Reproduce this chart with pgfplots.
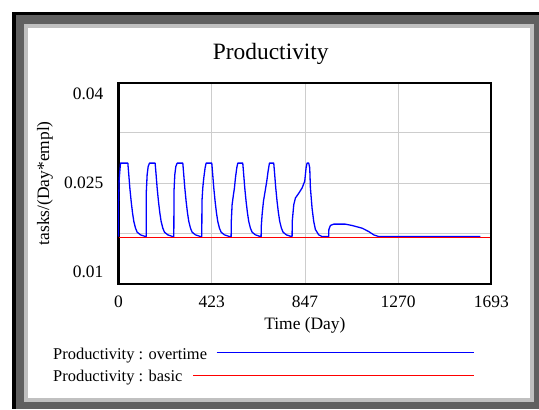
\documentclass[border=0pt]{standalone}
\usepackage{pgfplots}
\pgfplotsset{compat=1.18}
\usepackage{fontspec}
\setmainfont{Liberation Serif}
\definecolor{dkgray}{RGB}{96,96,96}
\definecolor{ltgray}{RGB}{192,192,192}
\definecolor{gridgray}{RGB}{205,205,205}
\definecolor{vblue}{RGB}{0,0,255}
\definecolor{vred}{rgb}{1,0,0}
\begin{document}
\begin{tikzpicture}[x=1bp,y=1bp]
\path[use as bounding box] (0,0) rectangle (539,409);
\fill[dkgray] (12,0) rectangle (539,397);
\fill[black] (12,0) rectangle (16,397);
\fill[black] (12,394) rectangle (539,397);
\fill[ltgray] (24,7) rectangle (534,385);
\fill[white] (28,11) rectangle (530,381);
\begin{axis}[
  at={(118.5bp,125.2bp)}, anchor=south west,
  width=372.8bp, height=201.1bp, scale only axis,
  xmin=0, xmax=1693, ymin=0.01, ymax=0.04,
  scaled y ticks=false, scaled x ticks=false,
  axis line style={line width=2.2bp, black},
  xtick={0,423,847,1270,1693}, xticklabels={0,423,847,1270,1693},
  ytick={0.01172,0.025,0.03836}, yticklabels={0.01,0.025,0.04},
  minor ytick={0.0175,0.025,0.0325},
  xmajorgrids=true, ymajorgrids=false, yminorgrids=true,
  major grid style={gridgray, line width=1bp},
  minor grid style={gridgray, line width=1bp},
  major tick length=0pt, minor tick length=0pt,
  tick style={draw=none},
  ticklabel style={font=\fontsize{17.5}{20}\selectfont},
  xticklabel style={anchor=center, yshift=-18bp},
  yticklabel style={anchor=east, inner sep=0pt, xshift=-15bp},
  title={Productivity},
  title style={at={(axis description cs:0.4085,1.088)}, anchor=base, inner sep=0pt, font=\fontsize{23.5}{28}\selectfont},
  xlabel={Time (Day)},
  xlabel style={at={(axis description cs:0.5,-0.2273)}, anchor=base, inner sep=0pt, font=\fontsize{17.5}{20}\selectfont},
  ylabel={tasks/(Day*empl)},
  ylabel style={at={(axis description cs:-0.197,0.5)}, anchor=center, inner sep=0pt, rotate=0, font=\fontsize{17.5}{20}\selectfont},
  clip=false,
]
\addplot[vblue, line width=1.3bp, line join=round] coordinates {
(0,0.01705) (0.3,0.0222) (3,0.0255) (6,0.0268) (9.1,0.0280) (42.4,0.0280)
(46.9,0.0262) (51.5,0.0243) (57.5,0.0223) (63.6,0.0206) (69.6,0.0193) (77.2,0.0183) (84.8,0.0177) (99.9,0.0173) (122.6,0.01705)
(125.6,0.01705) (126.4,0.0238) (130.1,0.0263) (134.7,0.0275) (140.7,0.0280) (166.4,0.0280)
(170.9,0.0262) (175.5,0.0243) (181.5,0.0223) (187.6,0.0206) (193.6,0.0193) (201.2,0.0183) (208.8,0.0177) (223.9,0.0173) (246.6,0.01705)
(251.2,0.01705) (252,0.0238) (255.7,0.0263) (260.3,0.0275) (266.3,0.0280) (292,0.0280)
(296.5,0.0262) (301.1,0.0243) (307.1,0.0223) (313.2,0.0206) (319.2,0.0193) (326.8,0.0183) (334.4,0.0177) (349.5,0.0173) (372.2,0.01705)
(378.2,0.01705) (379,0.0223) (382.7,0.0243) (387.3,0.0258) (393.3,0.0273) (397.9,0.0280) (423.6,0.0280)
(428.1,0.0262) (432.7,0.0243) (438.7,0.0223) (444.8,0.0206) (450.8,0.0193) (458.4,0.0183) (466,0.0177) (481.1,0.0173) (503.8,0.01705)
(511.4,0.01705) (512.2,0.0193) (515.9,0.0218) (522,0.0233) (526.5,0.0243) (531.1,0.0258) (537.1,0.0273) (541.6,0.0280) (564.3,0.0280)
(568.8,0.0262) (573.4,0.0243) (579.4,0.0223) (585.5,0.0206) (591.5,0.0193) (599.1,0.0183) (606.7,0.0177) (621.8,0.0173) (644.5,0.01705)
(647.6,0.01705) (648.4,0.0186) (652.1,0.0203) (658.2,0.0223) (665.8,0.0238) (673.3,0.0253) (679.4,0.0268) (685.4,0.0280) (705,0.0280)
(709.5,0.0262) (714.1,0.0243) (720.1,0.0223) (726.2,0.0206) (732.2,0.0193) (739.8,0.0183) (747.4,0.0177) (762.5,0.0173) (785.2,0.01705)
(788.3,0.01705) (789,0.0193) (795.9,0.0218) (803.4,0.0228) (818.5,0.0235) (833.7,0.0243) (845.7,0.0253) (851.8,0.0273) (856.3,0.0280) (863.9,0.0280)
(868.4,0.0273) (871.5,0.0243) (879,0.0213) (886.6,0.0193) (894.2,0.0181) (909.3,0.0173) (924.5,0.01705)
(954.7,0.01705) (955.3,0.0181) (962.3,0.0187) (977.4,0.0189) (1030.4,0.0189) (1060.7,0.0187) (1106,0.0183) (1136.3,0.0178) (1159,0.0173) (1181.6,0.01705) (1643,0.01705)
};
\addplot[draw=vred, color=vred, line width=1.4bp] coordinates {(0,0.0169) (1685,0.0169)};
\end{axis}
\node[anchor=base west, inner sep=0pt, font=\fontsize{16.5}{19}\selectfont] at (53,49.7) {Productivity : overtime};
\draw[vblue, line width=1.3bp] (216.7,56.3) -- (474,56.3);
\node[anchor=base west, inner sep=0pt, font=\fontsize{16.5}{19}\selectfont] at (53,27.3) {Productivity : basic};
\draw[draw=vred, line width=1.4bp] (193.3,33.7) -- (474,33.7);
\end{tikzpicture}
\end{document}
